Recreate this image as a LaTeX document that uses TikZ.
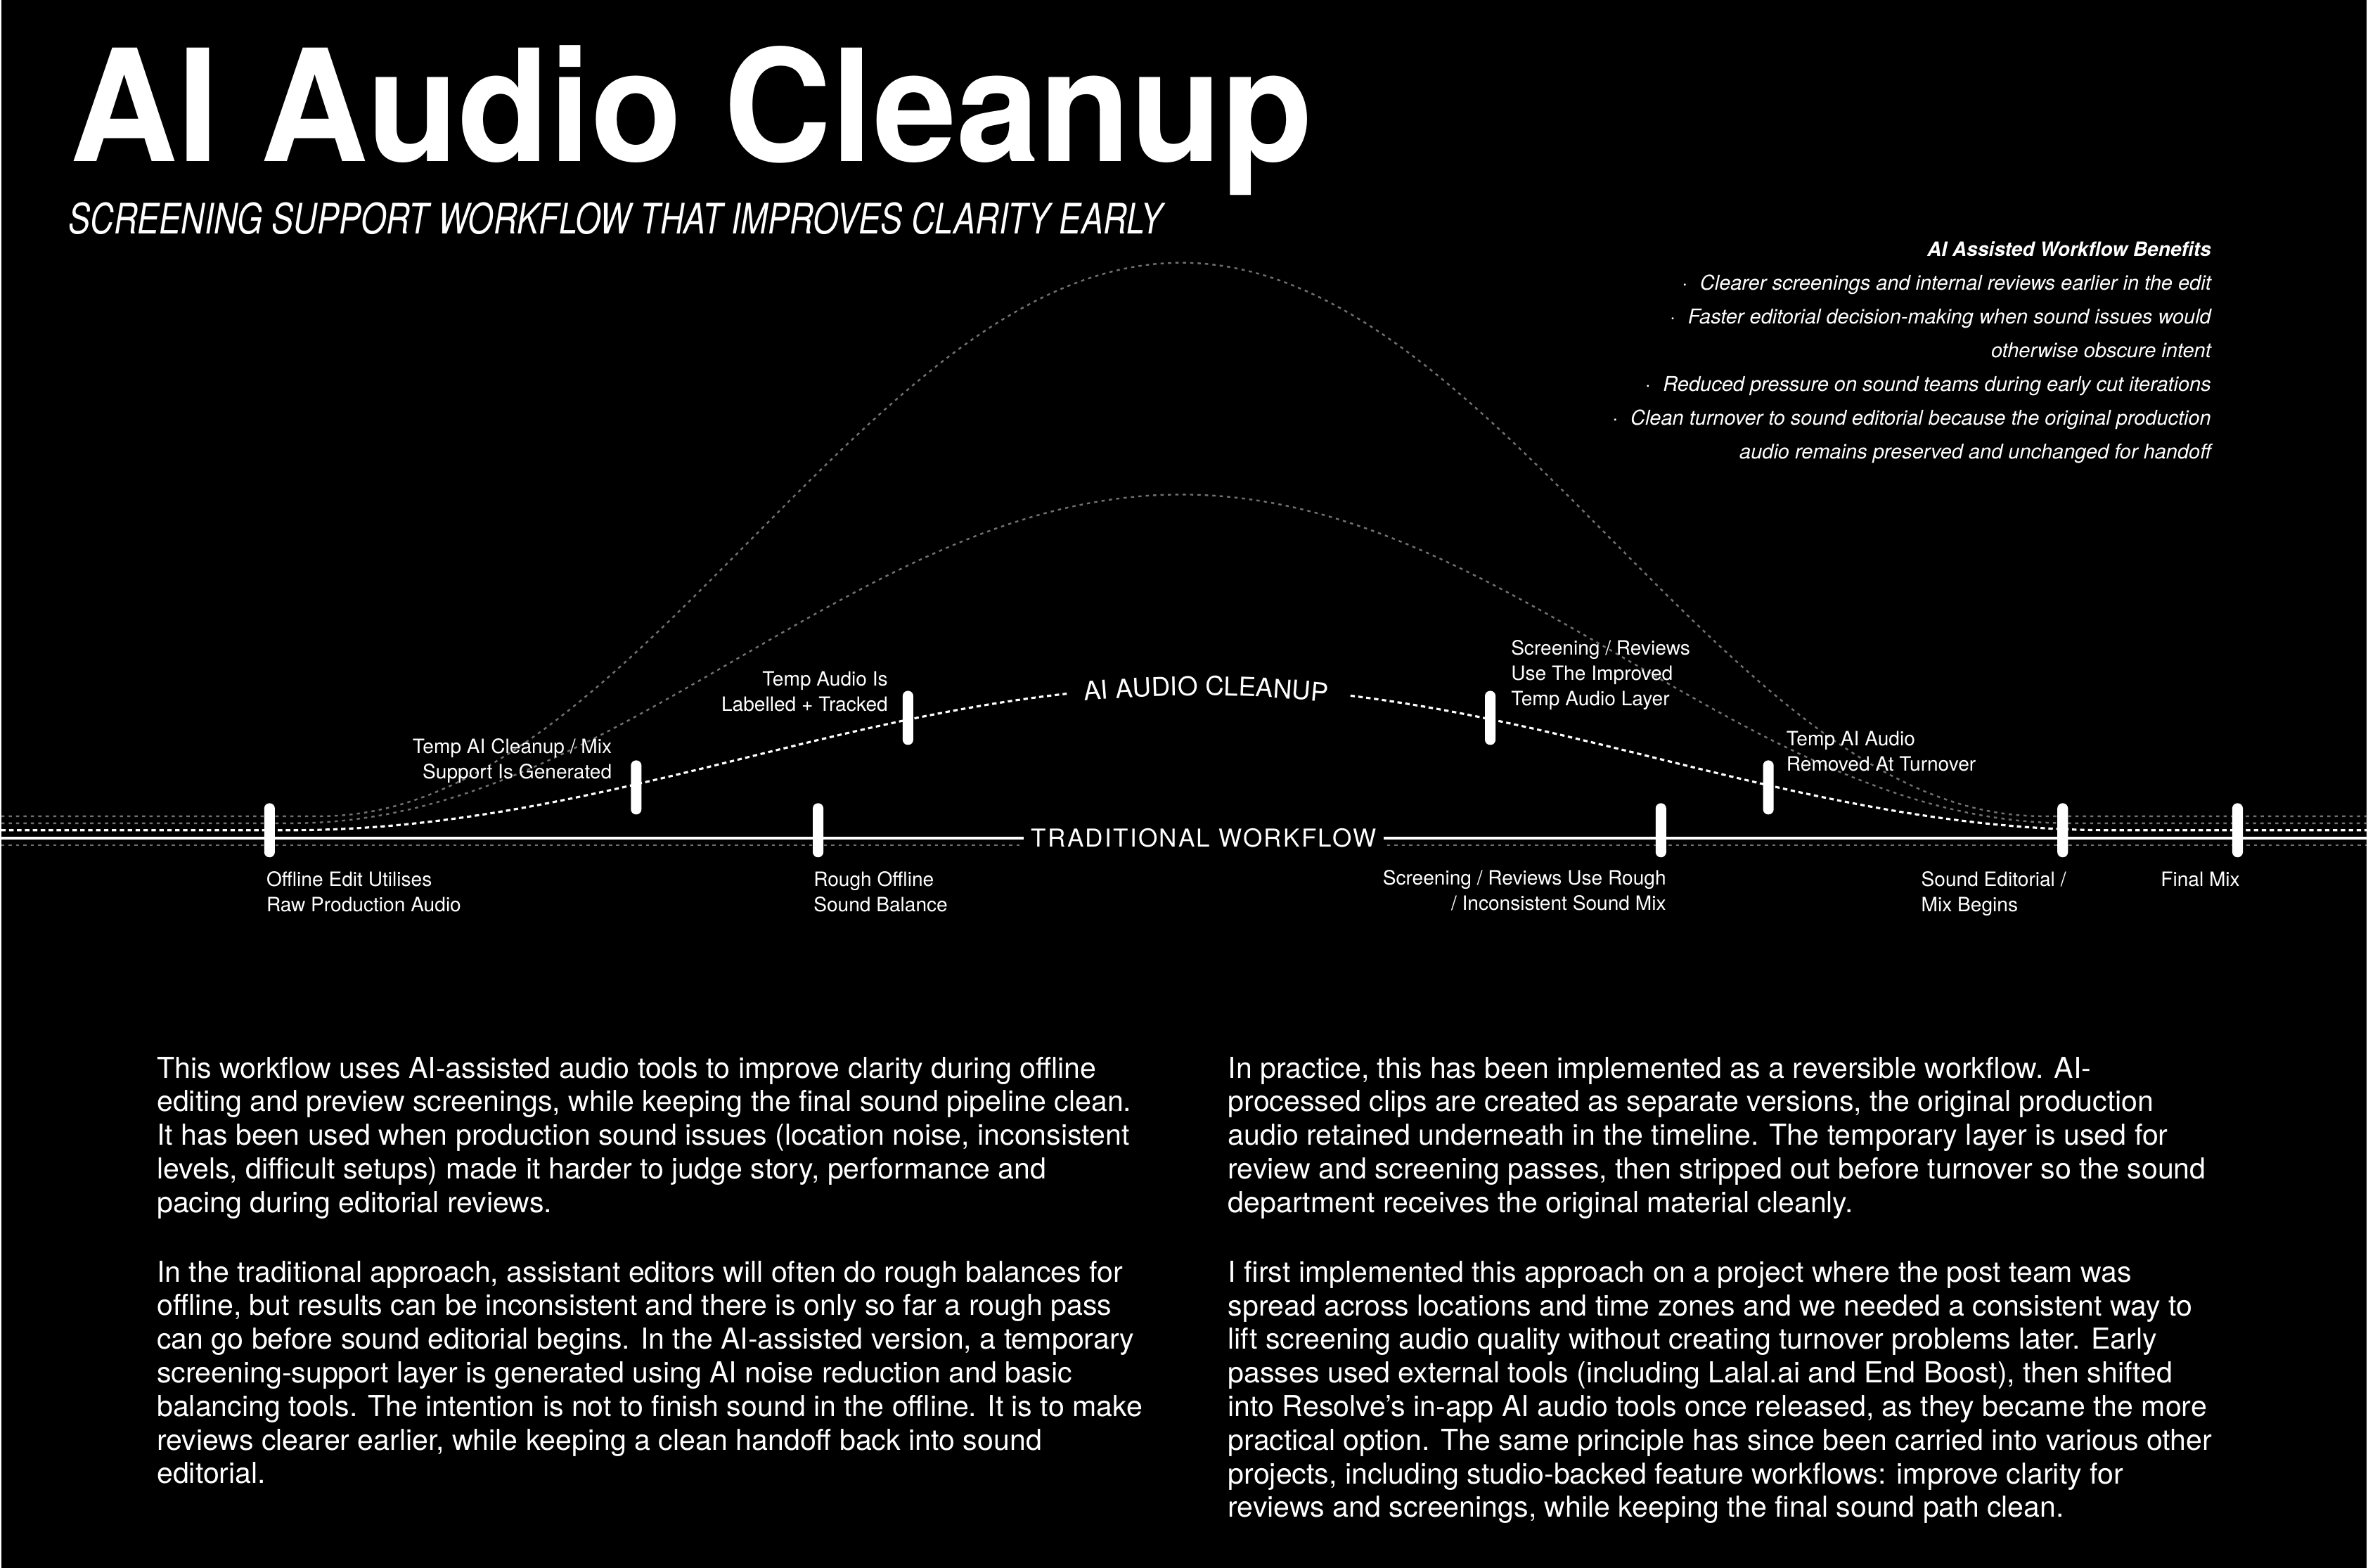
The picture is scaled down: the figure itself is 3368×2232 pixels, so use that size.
\documentclass[tikz,border=0pt]{standalone}
\usepackage{fontspec}
\setmainfont{TeX Gyre Heros}
\newfontfamily\titlefamily{TeX Gyre Heros}[FakeStretch=0.96]
\newfontfamily\subtitlefamily{TeX Gyre Heros}[FakeStretch=0.78]
\newfontfamily\trackedfamily{TeX Gyre Heros}[LetterSpace=6.5]
\usetikzlibrary{decorations.text}
\definecolor{ghost}{HTML}{707070}
\newcommand{\cleanupfont}{\fontsize{10.5pt}{12pt}\selectfont}
\newcommand{\dotitem}{\textperiodcentered\hspace{5pt}}
\tikzset{
  declare function={bell(\x,\c,\a,\w)=\a*(1+cos(180*((\x-\c)/\w)))/2;},
  tickmark/.style={fill=white, rounded corners=2.1pt, minimum width=4.3pt, minimum height=21.9pt, inner sep=0pt},
  stagelabel/.style={text=white, inner sep=0pt, font=\fontsize{8pt}{10.25pt}\selectfont},
  bodytext/.style={text=white, inner sep=0pt, align=left, anchor=base west, font=\fontsize{11.7pt}{13.6pt}\selectfont},
  aipath/.style={white, line width=0.9pt, dash pattern=on 1.8pt off 1.4pt},
  ghostpath/.style={ghost, line width=0.7pt, dash pattern=on 1.3pt off 1.7pt},
}
\begin{document}
\begin{tikzpicture}[x=0.01cm, y=-0.01cm]
    \fill [black] (0,0) rectangle (3368,2232) ;

    \node [text=white, inner sep=0pt, anchor=base west, font=\titlefamily\bfseries\fontsize{63pt}{63pt}\selectfont] (title) at (97,230) {AI Audio Cleanup} ;
    \node [text=white, inner sep=0pt, anchor=base west, font=\subtitlefamily\itshape\fontsize{17pt}{17pt}\selectfont] (subtitle) at (95,333) {SCREENING SUPPORT WORKFLOW THAT IMPROVES CLARITY EARLY} ;

    \node [text=white, inner sep=0pt, align=right, anchor=base east, font=\itshape\fontsize{8.25pt}{13.66pt}\selectfont] (benefits) at (3147,653)
      {{\bfseries\fontsize{8pt}{13.66pt}\selectfont AI Assisted Workflow Benefits}\\
       \dotitem Clearer screenings and internal reviews earlier in the edit\\
       \dotitem Faster editorial decision-making when sound issues would\\
       otherwise obscure intent\\
       \dotitem Reduced pressure on sound teams during early cut iterations\\
       \dotitem Clean turnover to sound editorial because the original production\\
       audio remains preserved and unchanged for handoff} ;

    \draw [ghostpath] (0,1203) -- (3368,1203) ;
    \draw [white, line width=1pt] (0,1193) -- (3368,1193) ;
    \draw [ghostpath] (0,1162) -- plot [domain=455:2905, samples=160] (\x,{1162-bell(\x,1680,788,1225)}) -- (3368,1162) ;
    \draw [ghostpath] (0,1172) -- plot [domain=415:2945, samples=140] (\x,{1172-bell(\x,1680,468,1265)}) -- (3368,1172) ;
    \draw [aipath] (0,1182) -- plot [domain=407:1517, samples=90] (\x,{1182-bell(\x,1707,205,1300)}) ;
    \draw [aipath] plot [domain=1921:3007, samples=90] (\x,{1182-bell(\x,1707,205,1300)}) -- (3368,1182) ;
    \path [decorate, decoration={text along path, text={|\cleanupfont|AI AUDIO CLEANUP}, text align=center, text color=white}]
      plot [domain=1500:1930, samples=60] (\x,{1195-bell(\x,1707,205,1300)}) ;

    \node [fill=black, text=white, inner xsep=3pt, inner ysep=2pt, font=\trackedfamily\fontsize{10pt}{12pt}\selectfont] (traditional) at (1712,1193) {TRADITIONAL WORKFLOW} ;

    \node [tickmark] (t1) at (382,1182) {} ;
    \node [tickmark] (t2) at (904,1121) {} ;
    \node [tickmark] (t3) at (1291,1022) {} ;
    \node [tickmark] (t4) at (1163,1182) {} ;
    \node [tickmark] (t5) at (2120,1022) {} ;
    \node [tickmark] (t6) at (2516,1121) {} ;
    \node [tickmark] (t7) at (2363,1182) {} ;
    \node [tickmark] (t8) at (2935,1182) {} ;
    \node [tickmark] (t9) at (3184,1182) {} ;

    \node [stagelabel, align=left, anchor=base west] (l1) at (377,1298) {Offline Edit Utilises\\Raw Production Audio} ;
    \node [stagelabel, align=right, anchor=base east] (l2) at (870,1109) {Temp AI Cleanup / Mix\\Support Is Generated} ;
    \node [stagelabel, align=right, anchor=base east] (l3) at (1263,1013) {Temp Audio Is\\Labelled + Tracked} ;
    \node [stagelabel, align=left, anchor=base west] (l4) at (1156,1298) {Rough Offline\\Sound Balance} ;
    \node [stagelabel, align=left, anchor=base west] (l5) at (2149,1005) {Screening / Reviews\\Use The Improved\\Temp Audio Layer} ;
    \node [stagelabel, align=left, anchor=base west] (l6) at (2541,1098) {Temp AI Audio\\Removed At Turnover} ;
    \node [stagelabel, align=right, anchor=base east] (l7) at (2371,1296) {Screening / Reviews Use Rough\\/ Inconsistent Sound Mix} ;
    \node [stagelabel, align=left, anchor=base west] (l8) at (2733,1298) {Sound Editorial /\\Mix Begins} ;
    \node [stagelabel, anchor=base east] (l9) at (3188,1262) {Final Mix} ;

    \node [bodytext] (p1) at (221,1726)
      {This workflow uses AI-assisted audio tools to improve clarity during offline\\
       editing and preview screenings, while keeping the final sound pipeline clean.\\
       It has been used when production sound issues (location noise, inconsistent\\
       levels, difficult setups) made it harder to judge story, performance and\\
       pacing during editorial reviews.} ;
    \node [bodytext] (p2) at (221,2112)
      {In the traditional approach, assistant editors will often do rough balances for\\
       offline, but results can be inconsistent and there is only so far a rough pass\\
       can go before sound editorial begins. In the AI-assisted version, a temporary\\
       screening-support layer is generated using AI noise reduction and basic\\
       balancing tools. The intention is not to finish sound in the offline. It is to make\\
       reviews clearer earlier, while keeping a clean handoff back into sound\\
       editorial.} ;
    \node [bodytext] (p3) at (1746,1726)
      {In practice, this has been implemented as a reversible workflow. AI-\\
       processed clips are created as separate versions, the original production\\
       audio retained underneath in the timeline. The temporary layer is used for\\
       review and screening passes, then stripped out before turnover so the sound\\
       department receives the original material cleanly.} ;
    \node [bodytext] (p4) at (1746,2160)
      {I first implemented this approach on a project where the post team was\\
       spread across locations and time zones and we needed a consistent way to\\
       lift screening audio quality without creating turnover problems later. Early\\
       passes used external tools (including Lalal.ai and End Boost), then shifted\\
       into Resolve’s in-app AI audio tools once released, as they became the more\\
       practical option. The same principle has since been carried into various other\\
       projects, including studio-backed feature workflows: improve clarity for\\
       reviews and screenings, while keeping the final sound path clean.} ;
\end{tikzpicture}
\end{document}
